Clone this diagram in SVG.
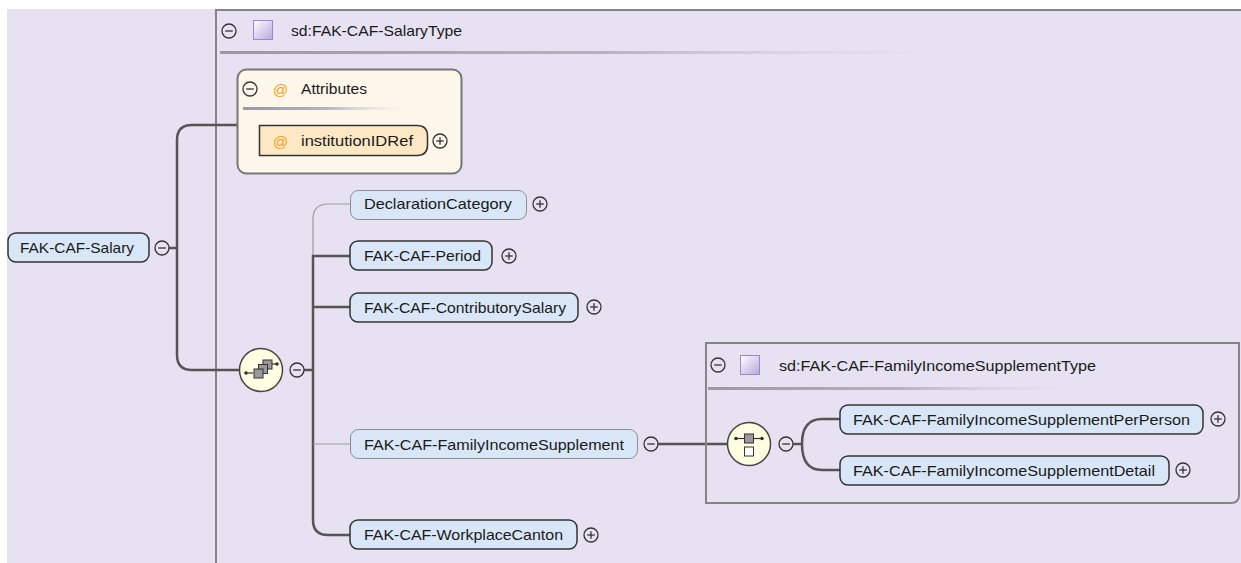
<svg xmlns="http://www.w3.org/2000/svg" width="1241" height="563" viewBox="0 0 1241 563">
<defs>
<style>
text{font-family:"Liberation Sans",Arial,sans-serif;font-size:14.5px;fill:#1a1a1a}
.el{fill:#D9E6F7;stroke:#333;stroke-width:1.5}
.opt{fill:#D9E6F7;stroke:#8c8c8c;stroke-width:1}
.con{fill:none;stroke:#555;stroke-width:2.5}
.thin{fill:none;stroke:#999;stroke-width:1.2}
.sym circle{fill:none;stroke:#333;stroke-width:1.3}
.sym line{stroke:#333;stroke-width:1.3}
.comp{fill:#FFFDE2;stroke:#444;stroke-width:1.5}
.at{fill:#F5A020;font-size:15px}
.ic{stroke:#333;stroke-width:1.2}
</style>
<linearGradient id="sep" x1="0" x2="1" y1="0" y2="0">
<stop offset="0" stop-color="#9a98a0"/>
<stop offset="0.5" stop-color="#b6b3c0"/>
<stop offset="1" stop-color="#e6e2f2" stop-opacity="0"/>
</linearGradient>
<linearGradient id="sq" x1="0" y1="0" x2="1" y2="1">
<stop offset="0" stop-color="#ffffff"/>
<stop offset="1" stop-color="#b7a6dc"/>
</linearGradient>
<g id="minus" class="sym"><circle r="7"/><line x1="-3.8" x2="3.8" y1="0" y2="0"/></g>
<g id="plus" class="sym"><circle r="7"/><line x1="-3.8" x2="3.8" y1="0" y2="0"/><line x1="0" x2="0" y1="-3.8" y2="3.8"/></g>
</defs>
<rect x="0" y="0" width="1241" height="563" fill="#ffffff"/>
<rect x="7" y="9" width="1234" height="554" fill="#E6E2F2"/>

<g id="salary-type">
<path d="M216,563 V10 H1241" fill="none" stroke="#858585" stroke-width="2"/>
<use href="#minus" x="229" y="31"/>
<rect x="253.5" y="20.5" width="19" height="19" fill="url(#sq)" stroke="#9a88c8" stroke-width="1"/>
<text x="291" y="36" textLength="171" lengthAdjust="spacingAndGlyphs">sd:FAK-CAF-SalaryType</text>
<rect x="220" y="51" width="770" height="3" fill="url(#sep)"/>
</g>

<g id="connectors">
<path class="con" d="M169,248 H177"/>
<path class="con" d="M237,125 H192 Q177,125 177,140 V355 Q177,370 192,370 H240"/>
<path class="con" d="M304,370 H313"/>
<path class="thin" d="M350,204 H328 Q313,204 313,219 V256"/>
<path class="con" d="M350,256 H313 V520 Q313,535 328,535 H350"/>
<path class="con" d="M313,307 H350"/>
<path class="thin" d="M313,444 H350"/>
<path class="con" d="M658,444 H728"/>
<path class="con" d="M793,444 H801"/>
<path class="con" d="M840,419 H822 Q802,419 802,444 Q802,470 822,470 H840"/>
</g>

<g id="attributes">
<rect x="237.5" y="69.5" width="224" height="104" rx="9" fill="#FDF6EA" stroke="#777" stroke-width="2"/>
<use href="#minus" x="250" y="89"/>
<text class="at" x="273" y="95">@</text>
<text x="301" y="94" textLength="66" lengthAdjust="spacingAndGlyphs">Attributes</text>
<rect x="243" y="107" width="166" height="3" fill="url(#sep)"/>
</g>

<g id="institutionIDRef">
<path d="M259.5,125.5 H417 Q427.5,125.5 427.5,136 V145 Q427.5,155.5 417,155.5 H259.5 Z" fill="#FDE8C6" stroke="#333" stroke-width="1.5"/>
<text class="at" x="273" y="147">@</text>
<text x="301" y="146" textLength="112" lengthAdjust="spacingAndGlyphs">institutionIDRef</text>
<use href="#plus" x="440" y="141"/>
</g>

<g id="FAK-CAF-Salary">
<rect class="el" x="8" y="233" width="141" height="29" rx="8"/>
<text x="20" y="253" textLength="114" lengthAdjust="spacingAndGlyphs">FAK-CAF-Salary</text>
<use href="#minus" x="162" y="248"/>
</g>

<g id="sequence">
<circle class="comp" cx="261" cy="370" r="21.5"/>
<line class="ic" x1="246" y1="373" x2="253" y2="373"/>
<circle cx="246" cy="373" r="1.8" fill="#333"/>
<rect x="263" y="360" width="9" height="9" fill="#999" stroke="#333" stroke-width="1"/>
<rect x="258.5" y="364.5" width="9" height="9" fill="#999" stroke="#333" stroke-width="1"/>
<rect x="254" y="369" width="9" height="9" fill="#999" stroke="#333" stroke-width="1"/>
<line class="ic" x1="272" y1="364" x2="277" y2="364"/>
<circle cx="277" cy="364" r="1.8" fill="#333"/>
<use href="#minus" x="297" y="370"/>
</g>

<g id="DeclarationCategory">
<rect class="opt" x="350.5" y="190.5" width="176" height="29" rx="8"/>
<text x="364" y="209" textLength="148" lengthAdjust="spacingAndGlyphs">DeclarationCategory</text>
<use href="#plus" x="540" y="204"/>
</g>

<g id="FAK-CAF-Period">
<rect class="el" x="350" y="241" width="142" height="29" rx="8"/>
<text x="364" y="261" textLength="117" lengthAdjust="spacingAndGlyphs">FAK-CAF-Period</text>
<use href="#plus" x="509" y="256"/>
</g>

<g id="FAK-CAF-ContributorySalary">
<rect class="el" x="350" y="293" width="228" height="29" rx="8"/>
<text x="364" y="313" textLength="202" lengthAdjust="spacingAndGlyphs">FAK-CAF-ContributorySalary</text>
<use href="#plus" x="594" y="307"/>
</g>

<g id="FAK-CAF-FamilyIncomeSupplement">
<rect class="opt" x="350.5" y="429.5" width="287" height="29" rx="8"/>
<text x="364" y="450" textLength="260" lengthAdjust="spacingAndGlyphs">FAK-CAF-FamilyIncomeSupplement</text>
<use href="#minus" x="651" y="444"/>
</g>

<g id="FAK-CAF-WorkplaceCanton">
<rect class="el" x="350" y="520" width="227" height="29" rx="8"/>
<text x="364" y="540" textLength="199" lengthAdjust="spacingAndGlyphs">FAK-CAF-WorkplaceCanton</text>
<use href="#plus" x="591" y="535"/>
</g>

<g id="FamilyIncomeSupplementType">
<path d="M706,343 H1239 V495 Q1239,503 1231,503 H706 Z" fill="none" stroke="#858585" stroke-width="2"/>
<use href="#minus" x="718" y="365"/>
<rect x="740.5" y="355.5" width="19" height="19" fill="url(#sq)" stroke="#9a88c8" stroke-width="1"/>
<text x="779" y="371" textLength="317" lengthAdjust="spacingAndGlyphs">sd:FAK-CAF-FamilyIncomeSupplementType</text>
<rect x="708" y="387" width="385" height="3" fill="url(#sep)"/>
</g>

<g id="choice">
<circle class="comp" cx="749" cy="444" r="21.5"/>
<line class="ic" x1="736" y1="438.5" x2="762" y2="438.5"/>
<circle cx="736" cy="438.5" r="1.8" fill="#333"/>
<circle cx="762" cy="438.5" r="1.8" fill="#333"/>
<rect x="744.5" y="434" width="9" height="9" fill="#999" stroke="#333" stroke-width="1"/>
<rect x="744.5" y="447" width="9" height="9" fill="#fff" stroke="#333" stroke-width="1"/>
<use href="#minus" x="786" y="444"/>
</g>

<g id="FAK-CAF-FamilyIncomeSupplementPerPerson">
<rect class="el" x="840" y="405" width="363" height="29" rx="8"/>
<text x="853" y="425" textLength="337" lengthAdjust="spacingAndGlyphs">FAK-CAF-FamilyIncomeSupplementPerPerson</text>
<use href="#plus" x="1218" y="419"/>
</g>

<g id="FAK-CAF-FamilyIncomeSupplementDetail">
<rect class="el" x="840" y="456" width="329" height="29" rx="8"/>
<text x="853" y="476" textLength="302" lengthAdjust="spacingAndGlyphs">FAK-CAF-FamilyIncomeSupplementDetail</text>
<use href="#plus" x="1183" y="470"/>
</g>
</svg>
